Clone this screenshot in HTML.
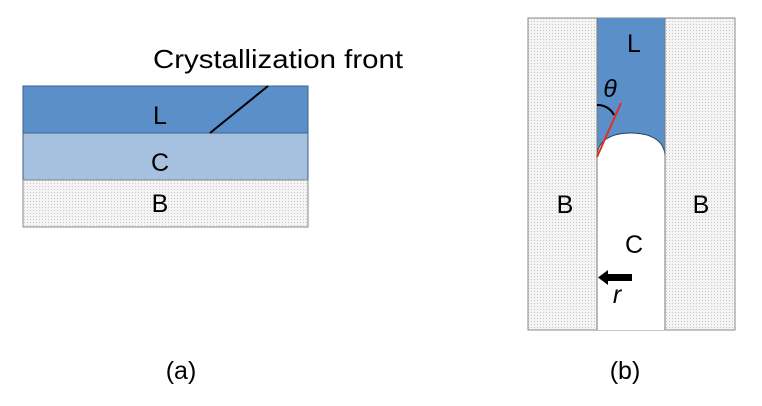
<!DOCTYPE html>
<html><head><style>body{margin:0;background:#fff}</style></head><body>
<svg width="762" height="401" xmlns="http://www.w3.org/2000/svg" font-family="Liberation Sans, sans-serif">
<defs>
<pattern id="dots" width="3" height="3" patternUnits="userSpaceOnUse">
<rect width="3" height="3" fill="#f4f4f4"/><rect width="1" height="1" fill="#c8c8c8"/>
</pattern>
</defs>
<text x="153" y="68" font-size="26" fill="#000" textLength="250" lengthAdjust="spacingAndGlyphs">Crystallization front</text>
<rect x="23" y="86" width="285" height="47" fill="#5b8fc9" stroke="#3d5f86"/>
<rect x="23" y="133" width="285" height="47" fill="#a6c0e0" stroke="#3d5f86"/>
<rect x="23" y="180" width="285" height="47" fill="url(#dots)" stroke="#888"/>
<line x1="210" y1="133" x2="268" y2="86" stroke="#000" stroke-width="2"/>
<text x="160" y="124" font-size="25" text-anchor="middle">L</text>
<text x="160" y="171" font-size="25" text-anchor="middle">C</text>
<text x="160" y="212" font-size="25" text-anchor="middle">B</text>

<rect x="528" y="18" width="207" height="312" fill="url(#dots)" stroke="#888"/>
<rect x="597" y="18" width="68" height="312" fill="#fff"/>
<path d="M597 18 H665 V157 C665 140 650 133 631 133 C612 133 597 140 597 157 Z" fill="#5b8fc9"/>
<path d="M665 157 C665 140 650 133 631 133 C612 133 597 140 597 157" fill="none" stroke="#2a3f5a" stroke-width="1"/>
<line x1="597" y1="18" x2="597" y2="330" stroke="#777"/>
<line x1="665" y1="18" x2="665" y2="330" stroke="#777"/>
<line x1="597" y1="157" x2="621" y2="103" stroke="#e03020" stroke-width="2"/>
<path d="M597 105 A18 18 0 0 1 614 115" fill="none" stroke="#000" stroke-width="2"/>
<text x="610" y="97" font-size="25" font-style="italic" text-anchor="middle">θ</text>
<text x="634" y="52" font-size="25" text-anchor="middle">L</text>
<text x="565" y="213" font-size="25" text-anchor="middle">B</text>
<text x="701" y="213" font-size="25" text-anchor="middle">B</text>
<text x="634" y="253" font-size="25" text-anchor="middle">C</text>
<rect x="607" y="274" width="25" height="7" fill="#000"/>
<polygon points="598,277.5 608,270 608,285" fill="#000"/>
<text x="617" y="303" font-size="25" font-style="italic" text-anchor="middle">r</text>
<text x="181" y="379" font-size="25" text-anchor="middle">(a)</text>
<text x="625" y="379" font-size="25" text-anchor="middle">(b)</text>
</svg>
</body></html>
